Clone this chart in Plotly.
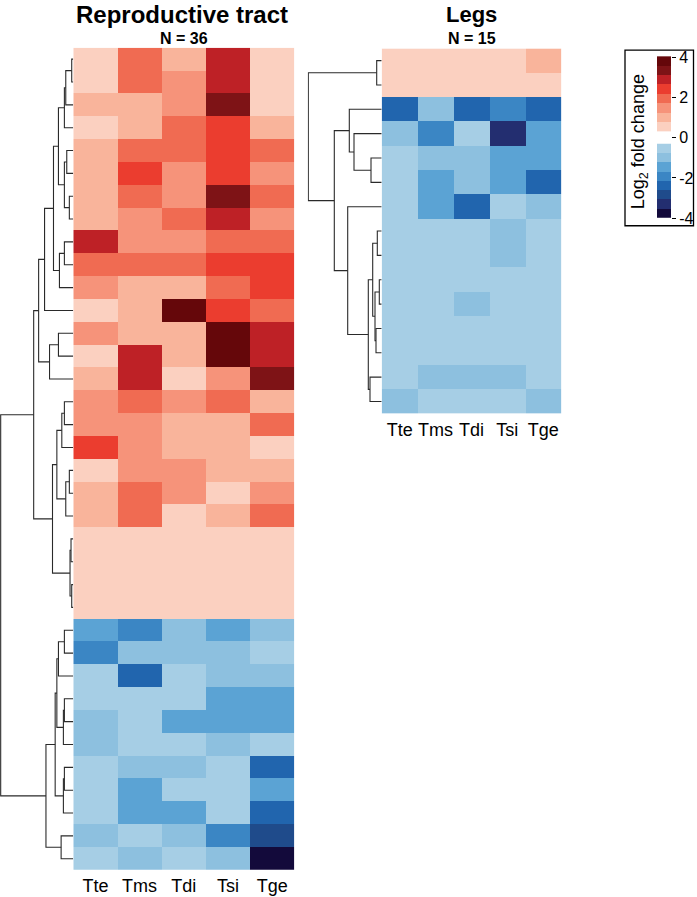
import numpy as np
import plotly.graph_objects as go

W, H = 697, 897
FONT = 'Liberation Sans, Arial, sans-serif'

cols = ['Tte', 'Tms', 'Tdi', 'Tsi', 'Tge']

# log2 fold change, rows already in dendrogram order
repro_lfc = [
    [0.2, 1.7, 0.7, 2.7, 0.2],
    [0.2, 1.7, 1.2, 2.7, 0.2],
    [0.7, 0.7, 1.2, 3.2, 0.2],
    [0.2, 0.7, 1.7, 2.2, 0.7],
    [0.7, 1.7, 1.7, 2.2, 1.7],
    [0.7, 2.2, 1.2, 2.2, 1.2],
    [0.7, 1.7, 1.2, 3.2, 1.7],
    [0.7, 1.2, 1.7, 2.7, 1.2],
    [2.7, 1.2, 1.2, 1.7, 1.7],
    [1.7, 1.7, 1.7, 2.2, 2.2],
    [1.2, 0.7, 0.7, 1.7, 2.2],
    [0.2, 0.7, 3.7, 2.2, 1.7],
    [1.2, 0.7, 0.7, 3.7, 2.7],
    [0.2, 2.7, 0.7, 3.7, 2.7],
    [0.7, 2.7, 0.2, 1.2, 3.2],
    [1.2, 1.7, 1.2, 1.7, 0.7],
    [1.2, 1.2, 0.7, 0.7, 1.7],
    [2.2, 1.2, 0.7, 0.7, 0.2],
    [0.2, 1.2, 1.2, 0.7, 0.7],
    [0.7, 1.7, 1.2, 0.2, 1.2],
    [0.7, 1.7, 0.2, 0.7, 1.7],
    [0.0, 0.0, 0.0, 0.0, 0.0],
    [0.0, 0.0, 0.0, 0.0, 0.0],
    [0.0, 0.0, 0.0, 0.0, 0.0],
    [0.0, 0.0, 0.0, 0.0, 0.0],
    [-1.2, -1.7, -0.7, -1.2, -0.7],
    [-1.7, -0.7, -0.7, -0.7, -0.2],
    [-0.2, -2.2, -0.2, -0.7, -0.7],
    [-0.2, -0.2, -0.2, -1.2, -1.2],
    [-0.7, -0.2, -1.2, -1.2, -1.2],
    [-0.7, -0.2, -0.2, -0.7, -0.2],
    [-0.2, -0.7, -0.7, -0.2, -2.2],
    [-0.2, -1.2, -0.2, -0.2, -1.2],
    [-0.2, -1.2, -1.2, -0.2, -2.2],
    [-0.7, -0.2, -0.7, -1.7, -2.7],
    [-0.2, -0.7, -0.2, -0.7, -3.7],
]

legs_lfc = [
    [0.0, 0.0, 0.0, 0.0, 0.7],
    [0.0, 0.0, 0.0, 0.0, 0.0],
    [-2.2, -0.7, -2.2, -1.7, -2.2],
    [-0.7, -1.7, -0.2, -3.2, -1.2],
    [-0.2, -0.7, -0.7, -1.2, -1.2],
    [-0.2, -1.2, -0.7, -1.2, -2.2],
    [-0.2, -1.2, -2.2, -0.2, -0.7],
    [-0.2, -0.2, -0.2, -0.7, -0.2],
    [-0.2, -0.2, -0.2, -0.7, -0.2],
    [-0.2, -0.2, -0.2, -0.2, -0.2],
    [-0.2, -0.2, -0.7, -0.2, -0.2],
    [-0.2, -0.2, -0.2, -0.2, -0.2],
    [-0.2, -0.2, -0.2, -0.2, -0.2],
    [-0.2, -0.7, -0.7, -0.7, -0.2],
    [-0.7, -0.2, -0.2, -0.2, -0.7],
]

# hclust-style merges: (child a, child b, height); ids >= n are earlier merges
repro_merges = [
    (0, 1, 1.6), (36, 2, 7.6), (37, 3, 9.0), (4, 5, 6.6), (6, 7, 4.0),
    (39, 40, 9.0), (38, 41, 15.0), (8, 9, 9.0), (43, 10, 14.0), (42, 44, 20.0),
    (45, 11, 29.0), (12, 13, 15.0), (47, 14, 24.0), (46, 48, 35.0),
    (15, 16, 9.0), (50, 17, 11.6), (18, 19, 4.0), (52, 20, 7.6), (51, 53, 16.6),
    (21, 22, 2.3), (23, 24, 1.6), (55, 56, 3.3), (54, 57, 21.0), (49, 58, 40.0),
    (25, 26, 9.0), (60, 27, 15.0), (28, 29, 9.0), (62, 30, 10.0), (61, 63, 16.6),
    (31, 32, 9.0), (65, 33, 10.0), (64, 66, 18.3), (34, 35, 12.3), (67, 68, 27.6),
    (59, 69, 73.3),
]

legs_merges = [
    (0, 1, 5.0), (4, 5, 10.7), (3, 16, 27.7), (2, 17, 32.4),
    (7, 8, 4.4), (9, 10, 2.4), (11, 12, 5.7), (20, 21, 6.7), (19, 22, 9.0),
    (13, 14, 11.7), (23, 24, 13.4), (6, 25, 34.0), (18, 26, 47.4), (15, 27, 73.4),
]

reds = ['#FBD0C0', '#F9B49B', '#F6937A', '#F06B52', '#EB3D2F', '#BE2126', '#7E1316', '#65070A']
blues = ['#A6CEE5', '#8DC0DF', '#5BA3D4', '#3B86C4', '#2165AE', '#1F4B8B', '#232E70', '#130A3B']
legend_vals = np.arange(-3.75, 4.0, 0.5)

colors = blues[::-1] + reds
cscale = []
for i, c in enumerate(colors):
    cscale.append([i / 16, c])
    cscale.append([(i + 1) / 16, c])


def dendro_lines(merges, n):
    pos = {i: (float(i), 0.0) for i in range(n)}
    xs, ys = [], []
    for k, (a, b, h) in enumerate(merges):
        ya, ha = pos[a]
        yb, hb = pos[b]
        xs += [ha, h, h, hb, None]
        ys += [ya, ya, yb, yb, None]
        pos[n + k] = ((ya + yb) / 2, h)
    return xs, ys


def px(x):
    return x / W


def py(y):
    return 1 - y / H


def label(text, x, y, size, angle=0):
    return dict(text=text, x=px(x), y=py(y), xref='paper', yref='paper',
                xanchor='center', yanchor='middle', textangle=angle, showarrow=False,
                font=dict(family=FONT, size=size, color='black'))


fig = go.Figure()

n1 = len(repro_lfc)
n2 = len(legs_lfc)
dx, dy = dendro_lines(repro_merges, n1)
fig.add_trace(go.Scatter(x=dx, y=dy, mode='lines', line=dict(color='#2a2a2a', width=1.1),
                         xaxis='x', yaxis='y', hoverinfo='skip', showlegend=False))
fig.add_trace(go.Heatmap(z=repro_lfc, x=cols, y=list(range(n1)), xaxis='x2', yaxis='y',
                         colorscale=cscale, zmin=-4, zmax=4, showscale=False))

dx, dy = dendro_lines(legs_merges, n2)
fig.add_trace(go.Scatter(x=dx, y=dy, mode='lines', line=dict(color='#2a2a2a', width=1.1),
                         xaxis='x3', yaxis='y2', hoverinfo='skip', showlegend=False))
fig.add_trace(go.Heatmap(z=legs_lfc, x=cols, y=list(range(n2)), xaxis='x4', yaxis='y2',
                         colorscale=cscale, zmin=-4, zmax=4, showscale=False))

# colour key
neg = legend_vals[legend_vals < 0]
pos_ = legend_vals[legend_vals > 0]
fig.add_trace(go.Heatmap(z=[[v] for v in neg], x=[-0.5, 0.5], y=np.linspace(-4.0, -0.3, 9),
                         xaxis='x5', yaxis='y3', colorscale=cscale, zmin=-4, zmax=4, showscale=False))
fig.add_trace(go.Heatmap(z=[[v] for v in pos_], x=[-0.5, 0.5], y=np.linspace(0.3, 4.05, 9),
                         xaxis='x5', yaxis='y3', colorscale=cscale, zmin=-4, zmax=4, showscale=False))

hm_x = dict(showgrid=False, zeroline=False, showline=False, ticks='', ticklabelstandoff=3,
            tickfont=dict(family=FONT, size=18, color='black'))

fig.update_layout(
    width=W, height=H, margin=dict(l=0, r=0, t=0, b=0),
    paper_bgcolor='white', plot_bgcolor='white',
    xaxis=dict(domain=[0, px(73.3)], range=[74, 0], visible=False, anchor='y'),
    yaxis=dict(domain=[py(873), py(46)], range=[n1 - 0.5, -0.5], visible=False, anchor='x'),
    xaxis2=dict(domain=[px(73.3), px(294.3)], anchor='y', **hm_x),
    xaxis3=dict(domain=[px(307.7), px(381.7)], range=[74, 0], visible=False, anchor='y2'),
    yaxis2=dict(domain=[py(414), py(46.7)], range=[n2 - 0.5, -0.5], visible=False, anchor='x3'),
    xaxis4=dict(domain=[px(381.7), px(561.2)], anchor='y2', **hm_x),
    xaxis5=dict(domain=[px(657), px(671)], range=[-0.5, 0.5], visible=False, anchor='y3'),
    yaxis3=dict(domain=[py(223.4), py(49.6)], range=[-4.3, 4.3], anchor='x5', side='right',
                tickvals=[-4, -2, 0, 2, 4], ticktext=['-4', '-2', '0', '2', '4'],
                ticks='outside', ticklen=4, tickcolor='black', showgrid=False,
                zeroline=False, showline=False,
                tickfont=dict(family=FONT, size=16, color='black')),
    shapes=[dict(type='rect', xref='paper', yref='paper', x0=px(625), x1=px(693.5),
                 y0=py(225), y1=py(48.3), line=dict(color='black', width=1.3))],
    annotations=[
        label('<b>Reproductive tract</b>', 182, 13, 24),
        label('<b>N = 36</b>', 183.8, 37, 16),
        label('<b>Legs</b>', 471.5, 13, 22),
        label('<b>N = 15</b>', 471.5, 37, 16),
        label('Log<sub>2</sub> fold change', 639, 141, 18, angle=-90),
    ],
)

fig.write_html('out.html', config={'displayModeBar': False},
               post_script="document.body.style.margin='0';")
